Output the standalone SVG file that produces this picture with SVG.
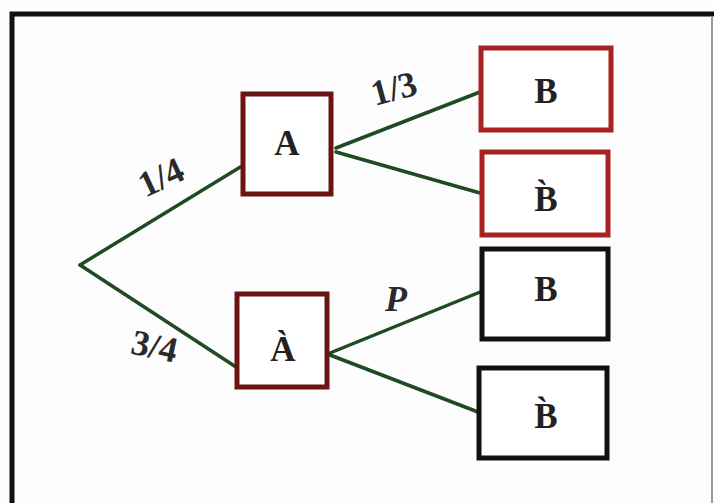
<svg xmlns="http://www.w3.org/2000/svg" width="714" height="503" viewBox="0 0 714 503">
<style>
.frame{fill:none;stroke:#111;stroke-width:5}
.box{fill:#fff;stroke-width:5}
.dred{stroke:#6a1414}
.red{stroke:#a82222}
.blk{stroke:#111}
.lbl{font-family:"Liberation Serif","DejaVu Serif",serif;font-weight:bold;font-size:35px;fill:#222;text-anchor:middle}
.prob{font-family:"Liberation Serif","DejaVu Serif",serif;font-weight:bold;font-size:36px;fill:#2a2a2a;text-anchor:middle}
.edge{stroke:#1f4a22;stroke-width:3.5;fill:none;stroke-linecap:round}
</style>
<rect width="714" height="503" fill="#fdfdfd"/>
<path class="frame" d="M12,503 V14 H714"/>
<line x1="712" y1="16" x2="712" y2="503" stroke="#999" stroke-width="2"/>
<g id="connectors">
<line class="edge" x1="80" y1="265" x2="242" y2="166"/>
<line class="edge" x1="80" y1="265" x2="236" y2="367"/>
<line class="edge" x1="336" y1="148" x2="480" y2="92"/>
<line class="edge" x1="336" y1="152" x2="480" y2="193"/>
<line class="edge" x1="330" y1="353" x2="490" y2="288"/>
<line class="edge" x1="330" y1="355" x2="478" y2="412"/>
</g>
<g id="labels">
<text class="prob" transform="translate(166,188) rotate(-25)">1/4</text>
<text class="prob" transform="translate(397,100) rotate(-15)">1/3</text>
<text class="prob" transform="translate(152,358) rotate(12)">3/4</text>
<text class="prob" font-style="italic" x="396" y="311">P</text>
</g>
<g id="nodeA"><rect class="box dred" x="243" y="94" width="88" height="100"/><text class="lbl" x="287" y="155">A</text></g>
<g id="nodeAbar"><rect class="box dred" x="237" y="294" width="90" height="93"/><text class="lbl" x="283" y="361">À</text></g>
<g id="nodeB1"><rect class="box red" x="481" y="48" width="130" height="82"/><text class="lbl" x="546" y="103">B</text></g>
<g id="nodeB1bar"><rect class="box red" x="482" y="152" width="126" height="83"/><text class="lbl" x="546" y="211">B̀</text></g>
<g id="nodeB2"><rect class="box blk" x="482" y="249" width="126" height="90"/><text class="lbl" x="546" y="301">B</text></g>
<g id="nodeB2bar"><rect class="box blk" x="479" y="368" width="128" height="90"/><text class="lbl" x="546" y="428">B̀</text></g>
</svg>
